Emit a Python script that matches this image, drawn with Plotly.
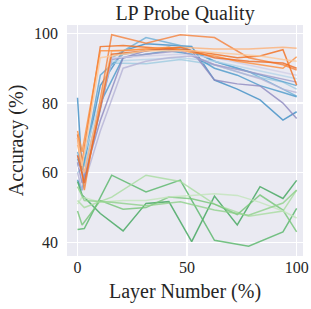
import plotly.graph_objects as go

# layer positions (%) for two model depths
x_a = [0, 3.1, 15.6, 31.25, 46.9, 62.5, 78.1, 93.75, 100]
x_b = [0, 2.1, 10.4, 20.8, 31.25, 41.7, 52.1, 62.5, 72.9, 83.3, 93.75, 100]

# blue series
blue1 = [81.5, 60, 85, 95, 97, 96.5, 96.2, 86.6, 84, 80.9, 75.1, 77.5]
blue2 = [66, 58, 93, 98.8, 96.5, 92, 89, 84, 82]
blue3 = [60, 62, 91.5, 91.3, 92.5, 91, 88, 86, 84]
blue4 = [64, 60, 88, 94, 95, 96, 95, 92, 90, 88, 86, 85]
blue5 = [62, 65, 92, 92.5, 93, 92, 90, 88, 87]
blue6 = [58, 55, 80, 93, 94, 95, 94, 90, 88, 85, 83, 81.8]

# purple series
purple1 = [63, 57, 75, 93, 95, 95.5, 95, 86.6, 85.5, 84.9, 80, 75.6]
purple2 = [60, 55, 72, 90, 92, 93, 93.5, 91, 89, 87, 84, 83]
purple3 = [65, 58, 92.5, 94, 95, 91, 89, 87, 86]
purple4 = [62, 60, 93, 93.5, 94, 93, 91, 89, 88]

# orange series
orange1 = [70, 55, 99.6, 97.2, 99.6, 98.8, 93, 91, 89.5]
orange2 = [71, 63, 96.2, 96.5, 96, 95.5, 95, 94, 93, 93.5, 95.3, 85.2]
orange3 = [68, 60, 95, 95.5, 96, 95.5, 95.5, 96, 95.7]
orange4 = [72, 66, 95, 95, 95.5, 96, 94.5, 93.5, 92, 91, 90, 93.3]
orange5 = [65, 57, 94, 95, 96, 93, 92, 91.5, 90]
orange6 = [70, 62, 93, 94, 95, 95, 95, 94.5, 94, 93.5, 92.5, 92]

# green series
green1 = [57.5, 53.6, 48.3, 43.3, 51.2, 51.7, 40.2, 53.3, 45, 56, 52.6, 57.8]
green2 = [43.7, 44, 59.3, 54.5, 57.9, 40.6, 38.9, 43, 49.8]
green3 = [52, 50, 53, 59.3, 57.5, 51, 47.5, 49, 55]
green4 = [49, 45, 52, 49.5, 50, 53, 52.5, 51, 48, 53.6, 49.3, 43]
green5 = [51, 53, 51.5, 52, 52, 53, 53.5, 54, 53.5, 51.5, 49, 47]
green6 = [56, 52, 51.5, 50.5, 51.7, 49.3, 47.8, 51.3, 55]

series = [
    (x_b, blue1, "#3d8dc4"), (x_a, blue2, "#6aaed6"), (x_a, blue3, "#9ccae0"),
    (x_b, blue4, "#5aa2cf"), (x_a, blue5, "#b5d4e9"), (x_b, blue6, "#4a98c9"),
    (x_b, purple1, "#8c88bf"), (x_b, purple2, "#b5b3d6"), (x_a, purple3, "#9e9ac8"),
    (x_a, purple4, "#cfcee6"),
    (x_b, green1, "#3fa55a"), (x_a, green2, "#55b567"), (x_a, green3, "#a8dc9f"),
    (x_b, green4, "#74c476"), (x_b, green5, "#c2e5ba"), (x_a, green6, "#8fd18a"),
    (x_a, orange1, "#f5813a"), (x_b, orange2, "#f26d1a"), (x_a, orange3, "#fdb077"),
    (x_b, orange4, "#fd8d3c"), (x_a, orange5, "#ee6a22"), (x_b, orange6, "#fdc796"),
]

fig = go.Figure()
for xs, ys, c in series:
    fig.add_trace(go.Scatter(x=xs, y=ys, mode="lines",
                             line=dict(color=c, width=1.5), opacity=0.8,
                             showlegend=False, hoverinfo="skip"))

font_family = "Liberation Serif"
fig.update_layout(
    width=311, height=309,
    margin=dict(l=67, r=8, t=25, b=53, autoexpand=False),
    paper_bgcolor="white", plot_bgcolor="#EAEAF2",
    font=dict(family=font_family, color="#262626", size=16),
    title=dict(text="LP Probe Quality", x=0.595, xanchor="center",
               y=0.957, yanchor="middle", font=dict(size=20)),
)
fig.update_xaxes(range=[-4.8, 102.9], tickvals=[0, 50, 100], automargin=False,
                 showgrid=True, gridcolor="white", gridwidth=1.2,
                 zeroline=False, showline=False, ticks="", ticklabeloverflow="allow",
                 title=dict(text="Layer Number (%)", font=dict(size=20), standoff=8))
fig.update_yaxes(range=[36.1, 102.4], tickvals=[40, 60, 80, 100], automargin=False,
                 showgrid=True, gridcolor="white", gridwidth=1.2,
                 zeroline=False, showline=False, ticks="", ticklabelstandoff=8,
                 title=dict(text="Accuracy (%)", font=dict(size=20), standoff=5))

fig.write_html("out.html",
               config={"displayModeBar": False, "staticPlot": True},
               post_script="document.body.style.margin='0';document.body.style.overflow='hidden';")
